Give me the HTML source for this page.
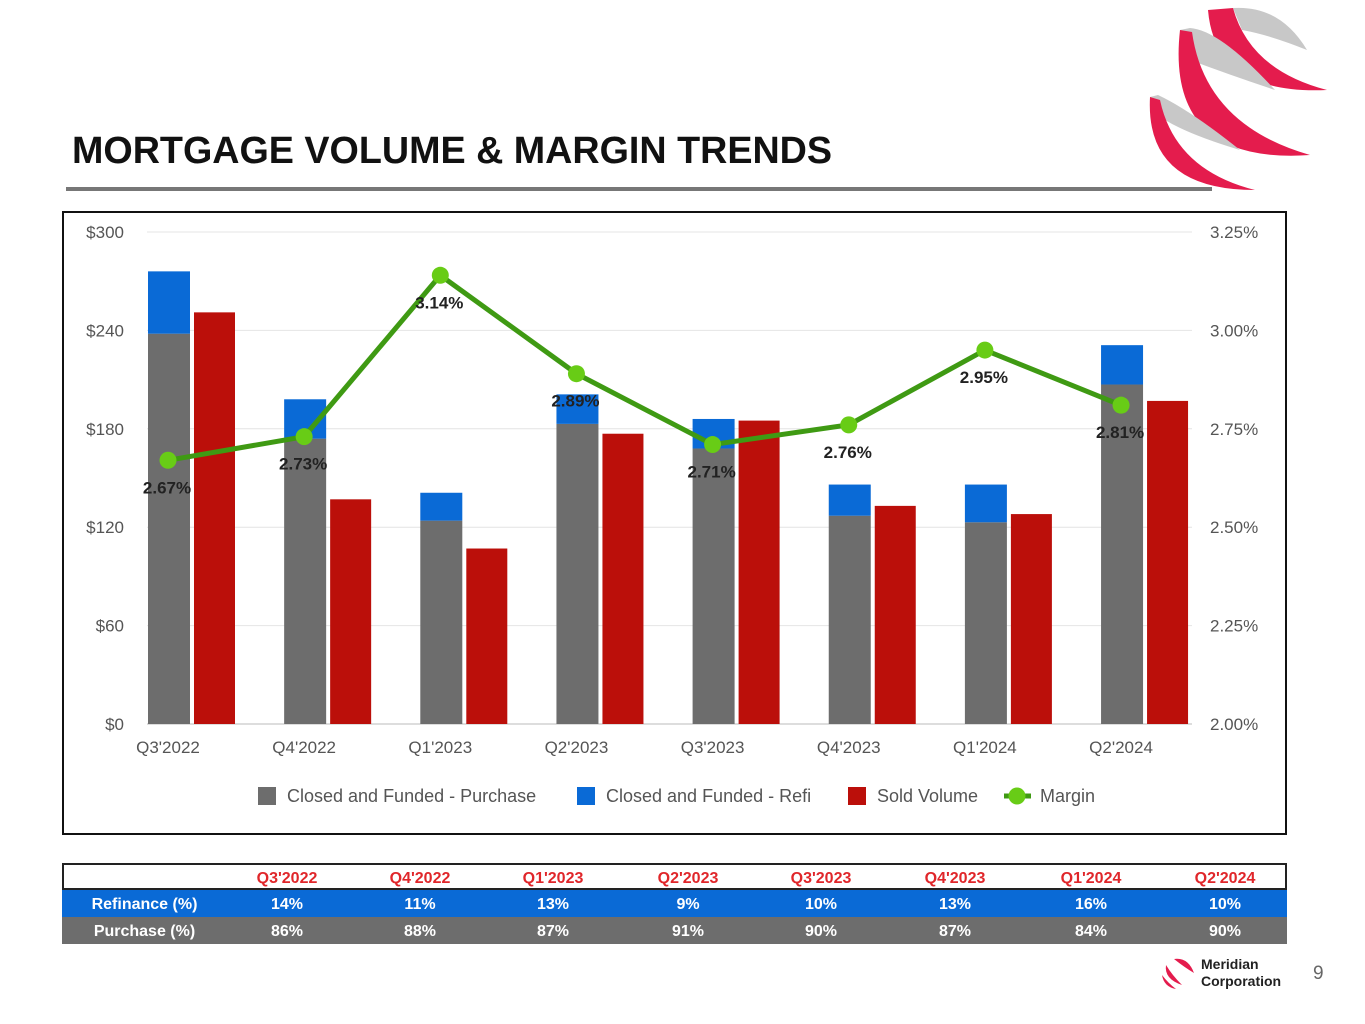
<!DOCTYPE html>
<html><head><meta charset="utf-8"><style>
body{margin:0;width:1365px;height:1024px;background:#fff;font-family:"Liberation Sans",sans-serif;position:relative;overflow:hidden}
.t{position:absolute}
</style></head><body>
<svg class="t" style="left:1130px;top:0" width="235" height="200">
<path d="M103 8 Q150 5 177 50 Q140 35 112 30 Z" fill="#c8c8c8"/>
<path d="M78 10 L103 8 Q120 70 197 90 Q85 95 78 10 Z" fill="#e41c4d"/>
<path d="M50 30 L60 28 Q90 30 145 90 Q100 75 60 60 Z" fill="#c8c8c8"/>
<path d="M50 30 L62 32 Q75 125 180 155 Q35 165 50 30 Z" fill="#e41c4d"/>
<path d="M20 97 L28 95 Q60 110 110 150 Q60 135 35 120 Z" fill="#c8c8c8"/>
<path d="M20 97 L30 100 Q45 170 125 190 Q15 190 20 97 Z" fill="#e41c4d"/>
</svg>
<div class="t" style="left:72px;top:129px;font-size:37.7px;font-weight:bold;color:#111">MORTGAGE VOLUME &amp; MARGIN TRENDS</div>
<div class="t" style="left:66px;top:187px;width:1146px;height:4px;background:#777"></div>
<div class="t" style="left:62px;top:211px;width:1221px;height:620px;border:2px solid #111"></div>
<svg id="chart" class="t" style="left:0;top:0" width="1365" height="850"></svg>
<div id="tbl" class="t" style="left:62px;top:863px;width:1225px"></div>
<svg class="t" style="left:1160px;top:955px" width="40" height="36">
<path d="M14 4 Q28 2 34 18 Q24 12 14 4Z" fill="#e41c4d"/><path d="M6 10 Q4 24 22 30 Q12 20 6 10Z" fill="#e41c4d"/><path d="M2 20 Q4 32 16 34 Q8 28 2 20Z" fill="#e41c4d"/>
</svg>
<div class="t" style="left:1201px;top:956px;font-size:14px;font-weight:bold;line-height:17px;color:#222">Meridian<br>Corporation</div>
<div class="t" style="left:1313px;top:963px;font-size:19px;color:#666">9</div>
<script>
const categories=["Q3'2022","Q4'2022","Q1'2023","Q2'2023","Q3'2023","Q4'2023","Q1'2024","Q2'2024"];
const purchase=[238,174,124,183,168,127,123,207];
const refi=[38,24,17,18,18,19,23,24];
const sold=[251,137,107,177,185,133,128,197];
const margin=[2.67,2.73,3.14,2.89,2.71,2.76,2.95,2.81];
const leftTicks=[0,60,120,180,240,300];
const rightTicks=[2.00,2.25,2.50,2.75,3.00,3.25];
const refiPct=["14%","11%","13%","9%","10%","13%","16%","10%"];
const purchPct=["86%","88%","87%","91%","90%","87%","84%","90%"];
const NS="http://www.w3.org/2000/svg";
const svg=document.getElementById('chart');
const y0=724,y1=232;
const yL=v=>y0-(v/300)*(y0-y1);
const yR=v=>y0-((v-2)/1.25)*(y0-y1);
const xC=i=>168+136.15*i;
function mk(tag,attrs,txt){const e=document.createElementNS(NS,tag);for(const k in attrs)e.setAttribute(k,attrs[k]);if(txt!==undefined)e.textContent=txt;svg.appendChild(e);return e;}
leftTicks.forEach((v,i)=>{
 let g=mk('line',{x1:147,x2:1192,y1:yL(v),y2:yL(v),stroke:i==0?'#bbb':'#e4e4e4','stroke-width':1});
 
 let t=mk('text',{x:124,y:yL(v)+6,'text-anchor':'end','font-size':17,fill:'#555'},'$'+v);
 
});
rightTicks.forEach(v=>{
 let t=mk('text',{x:1210,y:yR(v)+6,'font-size':17,fill:'#555'},v.toFixed(2)+'%');
 
});
categories.forEach((c,i)=>{
 const x=xC(i);
 let b=mk('rect',{x:x-20,y:yL(purchase[i]),width:42,height:y0-yL(purchase[i]),fill:'#6d6d6d'});
 
 let r=mk('rect',{x:x-20,y:yL(purchase[i]+refi[i]),width:42,height:yL(purchase[i])-yL(purchase[i]+refi[i]),fill:'#0a6ad6'});
 
 let s=mk('rect',{x:x+26,y:yL(sold[i]),width:41,height:y0-yL(sold[i]),fill:'#bb0f0a'});
 
 let t=mk('text',{x:x,y:753,'text-anchor':'middle','font-size':17,fill:'#555'},c);
 
});
let pts=margin.map((m,i)=>xC(i)+','+yR(m)).join(' ');
let pl=mk('polyline',{points:pts,fill:'none',stroke:'#3f9a13','stroke-width':5});

margin.forEach((m,i)=>{
 let c=mk('circle',{cx:xC(i),cy:yR(m),r:8.5,fill:'#68cc16'});
 
 let t=mk('text',{x:xC(i)-1,y:yR(m)+33,'text-anchor':'middle','font-size':17,'font-weight':'bold',fill:'#222'},m.toFixed(2)+'%');
 
});
const leg=[[258,'#6d6d6d','Closed and Funded - Purchase'],[577,'#0a6ad6','Closed and Funded - Refi'],[848,'#bb0f0a','Sold Volume']];
leg.forEach(l=>{
 let r=mk('rect',{x:l[0],y:787,width:18,height:18,fill:l[1]});
 
 let t=mk('text',{x:l[0]+29,y:802,'font-size':18,fill:'#555'},l[2]);
 
});
let ll=mk('line',{x1:1004,x2:1031,y1:796,y2:796,stroke:'#3f9a13','stroke-width':5});

let lc=mk('circle',{cx:1017,cy:796,r:8.5,fill:'#68cc16'});

let lt=mk('text',{x:1040,y:802,'font-size':18,fill:'#555'},'Margin');

const colX=[225,358,491,626,759,893,1029,1163];
const tbl=document.getElementById('tbl');
function row(top,h,bg,color,label,vals,border,name){
 const d=document.createElement('div');
 
 
 d.style.cssText=`position:absolute;left:0;top:${top}px;width:1225px;height:${h}px;background:${bg};box-sizing:border-box;${border?'border:2px solid #222;':''}`;
 let html='';
 if(label)html+=`<div style="position:absolute;left:0;width:165px;text-align:center;top:6px;font-size:16px;font-weight:bold;color:${color}">${label}</div>`;
 vals.forEach((v,i)=>{html+=`<div style="position:absolute;left:${colX[i]-60-(border?2:0)}px;width:120px;text-align:center;top:${border?5:6}px;font-size:16px;font-weight:bold;color:${color}">${v}</div>`;});
 d.innerHTML=html;tbl.appendChild(d);
}
row(0,27,'#fff','#e0262a','',categories,true,'table-header');
row(27,27,'#0a6ad6','#fff','Refinance (%)',refiPct,false,'refinance-row');
row(54,27,'#6d6d6d','#fff','Purchase (%)',purchPct,false,'purchase-row');
</script>
</body></html>
